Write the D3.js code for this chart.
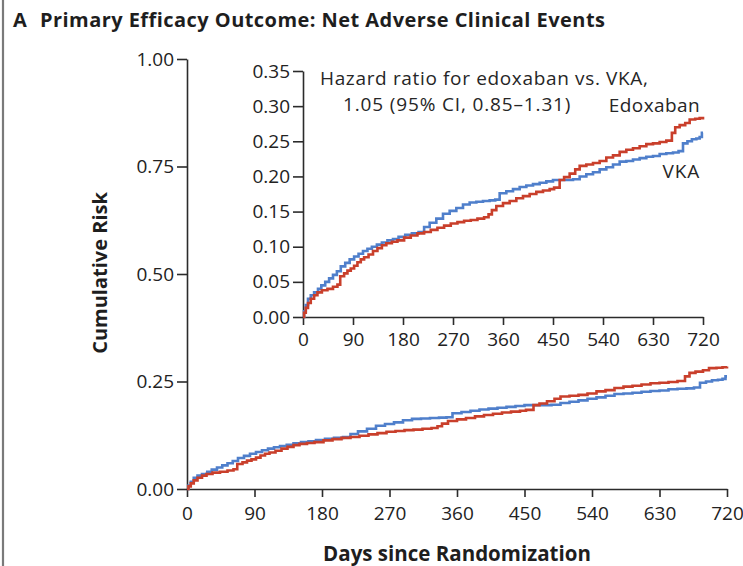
<!DOCTYPE html>
<html>
<head>
<meta charset="utf-8">
<script src="https://cdn.jsdelivr.net/npm/d3@7"></script>
<style>
  html, body { margin: 0; padding: 0; background: #fff; }
  svg { display: block; font-family: "Open Sans", Lato, sans-serif; }
  .axis path, .axis line { stroke: #2b2b2b; stroke-width: 1.6; }
  .axis text { fill: #222; font-size: 19px; font-family: "Open Sans", sans-serif; }
</style>
</head>
<body>
<svg id="chart" width="743" height="566"></svg>
<script>
// Kaplan-Meier style cumulative risk, [day, risk] at each step
const vkaSteps = [
  [0,0],[2,0.008],[5,0.017],[9,0.026],[14,0.031],[20,0.035],[27,0.040],[33,0.045],
  [40,0.050],[47,0.055],[54,0.060],[61,0.065],[68,0.072],[76,0.077],[84,0.082],
  [92,0.086],[100,0.090],[108,0.094],[116,0.097],[124,0.100],[133,0.103],[142,0.106],
  [152,0.109],[162,0.111],[172,0.114],[184,0.117],[196,0.119],[208,0.121],[218,0.128],
  [228,0.134],[240,0.140],[252,0.147],[264,0.151],[276,0.155],[288,0.160],[300,0.163],
  [312,0.164],[324,0.165],[336,0.166],[346,0.167],[354,0.176],[366,0.179],[378,0.182],
  [390,0.185],[402,0.187],[414,0.189],[426,0.191],[438,0.193],[450,0.195],[462,0.195],
  [474,0.195],[486,0.196],[498,0.200],[510,0.203],[522,0.206],[534,0.210],[546,0.213],
  [558,0.217],[570,0.221],[582,0.222],[594,0.224],[606,0.226],[618,0.228],[630,0.229],
  [642,0.232],[654,0.233],[666,0.234],[676,0.236],[684,0.247],[692,0.250],[700,0.253],
  [708,0.254],[714,0.256],[718,0.262],[720,0.262]
];
const edoxabanSteps = [
  [0,0],[2,0.006],[5,0.013],[9,0.020],[14,0.026],[20,0.031],[26,0.035],[34,0.038],
  [44,0.040],[54,0.043],[62,0.046],[67,0.058],[74,0.062],[80,0.066],[86,0.069],
  [92,0.073],[98,0.078],[104,0.082],[110,0.085],[118,0.089],[126,0.094],[134,0.098],
  [142,0.102],[150,0.105],[160,0.107],[170,0.109],[182,0.113],[194,0.116],[206,0.119],
  [218,0.121],[230,0.124],[242,0.127],[254,0.130],[266,0.133],[278,0.135],[290,0.137],
  [302,0.138],[314,0.140],[326,0.142],[334,0.146],[340,0.152],[348,0.158],[360,0.162],
  [372,0.165],[384,0.169],[396,0.172],[408,0.175],[420,0.178],[432,0.180],[444,0.182],
  [452,0.184],[462,0.195],[470,0.199],[480,0.204],[490,0.210],[498,0.215],[510,0.217],
  [522,0.219],[534,0.222],[546,0.227],[558,0.230],[570,0.235],[582,0.238],[594,0.240],
  [606,0.243],[618,0.246],[630,0.247],[642,0.249],[654,0.251],[664,0.262],[670,0.270],
  [678,0.273],[688,0.276],[696,0.281],[706,0.282],[714,0.283],[720,0.285]
];

const dayTicks = [0, 90, 180, 270, 360, 450, 540, 630, 720];
const mainRiskTicks = [0, 0.25, 0.5, 0.75, 1.0];
const insetRiskTicks = [0, 0.05, 0.10, 0.15, 0.20, 0.25, 0.30, 0.35];

const seriesColors = { vka: "#4f7fcb", edoxaban: "#c93f2b" };

const svg = d3.select("#chart");

// panel frame on the left edge
svg.append("line")
  .attr("x1", 3).attr("x2", 3).attr("y1", 0).attr("y2", 566)
  .attr("stroke", "#7a7a7a").attr("stroke-width", 2.2);

// panel title
const title = svg.append("text")
  .attr("y", 27).attr("fill", "#1e1e1e")
  .style("font-weight", "700").style("font-size", "20px");
title.append("tspan").attr("x", 13).text("A");
title.append("tspan").attr("x", 40).style("letter-spacing", "0.45px")
  .text("Primary Efficacy Outcome: Net Adverse Clinical Events");

function drawPanel(g, x, y, yTicks, xPad) {
  const xAxis = d3.axisBottom(x).tickValues(dayTicks).tickFormat(d3.format("d"))
    .tickSizeInner(8).tickSizeOuter(0).tickPadding(xPad);
  const yAxis = d3.axisLeft(y).tickValues(yTicks).tickFormat(d3.format(".2f"))
    .tickSizeInner(10).tickSizeOuter(0).tickPadding(3);

  g.append("g").attr("class", "axis")
    .attr("transform", `translate(0,${y(0)})`).call(xAxis);
  g.append("g").attr("class", "axis")
    .attr("transform", `translate(${x(0)},0)`).call(yAxis);

  const line = d3.line()
    .x(d => x(d[0])).y(d => y(d[1]))
    .curve(d3.curveStepAfter);

  g.append("path").datum(vkaSteps)
    .attr("fill", "none").attr("stroke", seriesColors.vka)
    .attr("stroke-width", 2.6).attr("d", line);
  g.append("path").datum(edoxabanSteps)
    .attr("fill", "none").attr("stroke", seriesColors.edoxaban)
    .attr("stroke-width", 2.6).attr("d", line);
}

// main panel
const xMain = d3.scaleLinear().domain([0, 720]).range([187, 727]);
const yMain = d3.scaleLinear().domain([0, 1]).range([489, 59]);
drawPanel(svg.append("g"), xMain, yMain, mainRiskTicks, 10);

// inset panel (zoomed risk scale)
const xInset = d3.scaleLinear().domain([0, 720]).range([303, 703]);
const yInset = d3.scaleLinear().domain([0, 0.35]).range([317, 71]);
drawPanel(svg.append("g"), xInset, yInset, insetRiskTicks, 8);

// axis titles
svg.append("text")
  .attr("x", 457).attr("y", 561).attr("text-anchor", "middle")
  .attr("fill", "#1e1e1e").style("font-weight", "700").style("font-size", "20.5px")
  .text("Days since Randomization");
svg.append("text")
  .attr("transform", "translate(107,273) rotate(-90)").attr("text-anchor", "middle")
  .attr("fill", "#1e1e1e").style("font-weight", "700").style("font-size", "20px")
  .text("Cumulative Risk");

// inset annotations
const note = svg.append("g").attr("fill", "#262626").style("font-size", "19px");
note.append("text").attr("x", 320).attr("y", 85).style("letter-spacing", "0.65px")
  .text("Hazard ratio for edoxaban vs. VKA,");
note.append("text").attr("x", 343).attr("y", 111).style("letter-spacing", "0.85px")
  .text("1.05 (95% CI, 0.85\u20131.31)");
note.append("text").attr("x", 700).attr("y", 112).attr("text-anchor", "end")
  .style("letter-spacing", "0.4px").text("Edoxaban");
note.append("text").attr("x", 700).attr("y", 178).attr("text-anchor", "end")
  .style("letter-spacing", "0.8px").text("VKA");
</script>
</body>
</html>
